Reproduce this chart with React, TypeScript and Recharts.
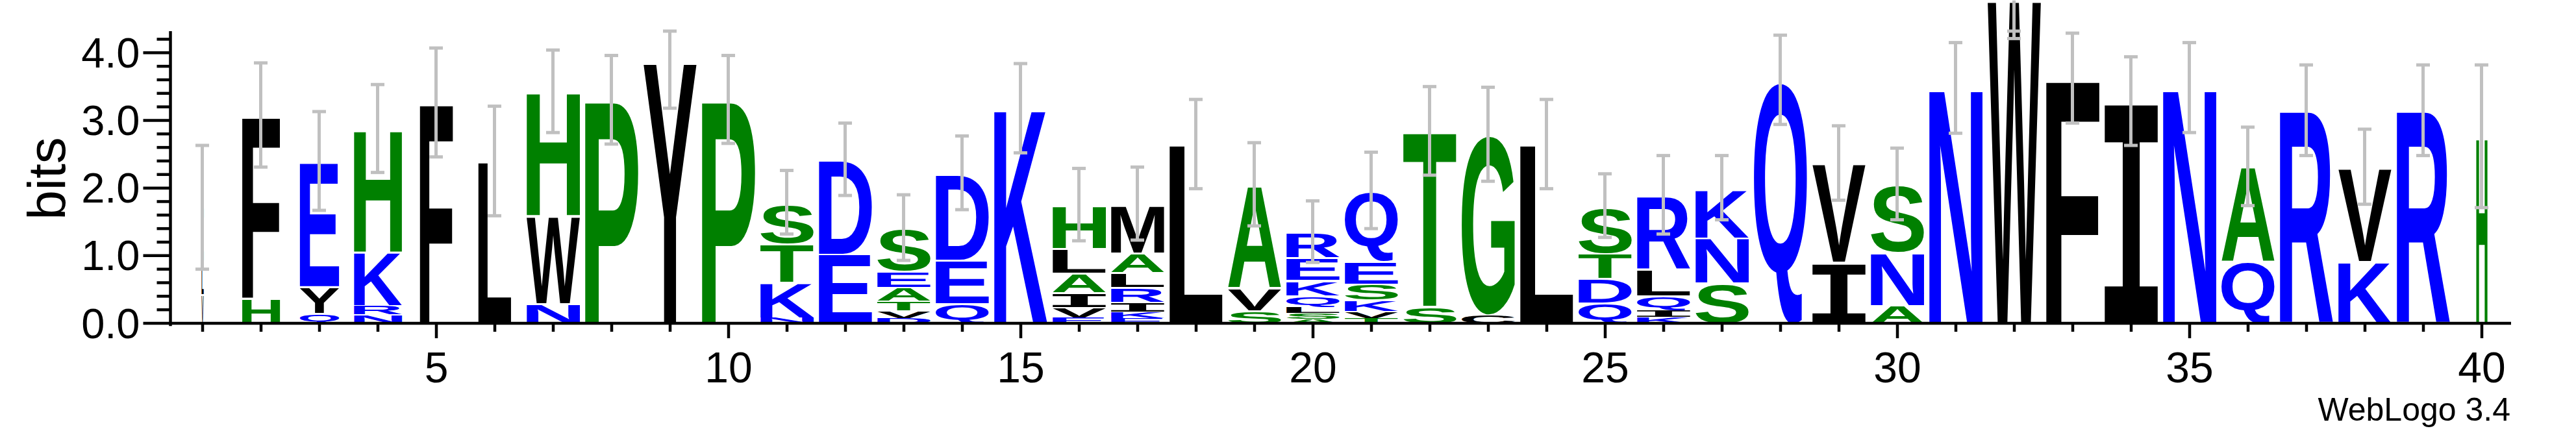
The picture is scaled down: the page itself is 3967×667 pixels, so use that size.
import { Bar, BarChart, Label, ReferenceLine, XAxis, YAxis } from 'recharts';

// sequence positions along the logo
const positions = [
  1, 2, 3, 4, 5, 6, 7, 8, 9, 10, 11, 12, 13, 14, 15, 16, 17, 18, 19, 20,
  21, 22, 23, 24, 25, 26, 27, 28, 29, 30, 31, 32, 33, 34, 35, 36, 37, 38, 39, 40,
];

// letters of each stack, read top to bottom
const stackLetters = [
  'ILV', 'FH', 'EYQ', 'HKRN', 'F', 'L', 'HWN', 'P', 'Y', 'P',
  'STKN', 'DE', 'SEATVD', 'DEQ', 'K', 'HLAIVE', 'MALRIKE', 'L', 'AVS', 'REKQLSA',
  'QESKVT', 'TS', 'GC', 'L', 'STDQ', 'RLQIK', 'KNS', 'Q', 'VI', 'SNA',
  'N', 'W', 'F', 'I', 'N', 'AQ', 'R', 'VK', 'R', 'H',
];

// bits of each letter, same order as stackLetters
const stackBits = [
  [0.8, 0.5, 0.43], [2.7, 0.38], [1.84, 0.4, 0.15], [1.81, 0.79, 0.14, 0.13], [3.27],
  [2.4], [1.83, 1.3, 0.3], [3.31], [3.86], [3.31],
  [0.59, 0.57, 0.52, 0.09], [1.39, 1.03], [0.64, 0.24, 0.21, 0.14, 0.11, 0.08], [1.27, 0.64, 0.3], [3.18],
  [0.63, 0.36, 0.29, 0.22, 0.15, 0.09], [0.71, 0.29, 0.22, 0.22, 0.15, 0.09, 0.08], [2.65], [1.52, 0.34, 0.19], [0.37, 0.34, 0.23, 0.17, 0.09, 0.08, 0.07],
  [1.04, 0.33, 0.24, 0.17, 0.1, 0.08], [2.59, 0.26], [2.66, 0.13], [2.65], [0.69, 0.37, 0.36, 0.31],
  [1.08, 0.4, 0.21, 0.1, 0.1], [0.72, 0.67, 0.6], [3.59], [1.46, 0.91], [1.0, 0.78, 0.27],
  [3.48], [4.85], [3.62], [3.28], [3.48],
  [1.4, 0.92], [3.15], [1.38, 0.92], [3.15], [2.76],
];

// stack width as a fraction of a full column
const stackWidth = [
  0.04, 0.71, 0.74, 0.9, 0.62, 0.62, 1, 1, 1, 1,
  1, 1, 1, 1, 1, 1, 1, 1, 1, 1,
  1, 1, 1, 1, 1, 1, 1, 1, 1, 1,
  1, 1, 1, 1, 1, 1, 1, 1, 1, 0.21,
];

// error bar ends (bits)
const errLow = [
  0.8, 2.31, 1.67, 2.23, 2.46, 1.59, 2.82, 2.65, 3.18, 2.66,
  1.32, 1.89, 0.93, 1.68, 2.52, 1.22, 1.23, 1.99, 1.44, 0.9,
  1.4, 2.19, 2.1, 1.99, 1.27, 1.32, 1.53, 2.94, 1.82, 1.53,
  2.81, 4.21, 2.96, 2.63, 2.82, 1.74, 2.48, 1.76, 2.48, 1.71,
];
const errHigh = [
  2.63, 3.85, 3.13, 3.53, 4.07, 3.21, 4.04, 3.96, 4.32, 3.96,
  2.26, 2.96, 1.9, 2.77, 3.84, 2.29, 2.31, 3.31, 2.67, 1.81,
  2.53, 3.5, 3.49, 3.31, 2.21, 2.48, 2.48, 4.26, 2.92, 2.59,
  4.15, 4.32, 4.29, 3.94, 4.15, 2.9, 3.82, 2.87, 3.82, 3.82,
];

const yTicks = [0, 0.2, 0.4, 0.6, 0.8, 1, 1.2, 1.4, 1.6, 1.8, 2, 2.2, 2.4, 2.6, 2.8, 3, 3.2, 3.4, 3.6, 3.8, 4, 4.2];
const maxBits = 4.32;

// hydrophobicity colours
const letterColor: Record<string, string> = {
  R: '#0000ff', K: '#0000ff', D: '#0000ff', E: '#0000ff', N: '#0000ff', Q: '#0000ff',
  S: '#008000', G: '#008000', H: '#008000', T: '#008000', A: '#008000', P: '#008000',
  Y: '#000000', V: '#000000', M: '#000000', C: '#000000', L: '#000000', F: '#000000', I: '#000000', W: '#000000',
};

const slots = [0, 1, 2, 3, 4, 5, 6];

const rows = positions.map((pos, i) => {
  const letters = stackLetters[i].split('').reverse();
  const bits = [...stackBits[i]].reverse();
  const row: any = {
    pos,
    frac: stackWidth[i],
    total: bits.reduce((a, b) => a + b, 0),
    errLo: errLow[i],
    errHi: errHigh[i],
  };
  slots.forEach((k) => {
    row[`s${k}`] = bits[k] ?? 0;
    row[`l${k}`] = letters[k] ?? '';
  });
  return row;
});

const GLYPH_SIZE = 200;
const glyphFont = (letter: string) => (letter === 'I' ? '"Liberation Mono"' : '"Liberation Sans"');
const metricCache: Record<string, { l: number; w: number; a: number; h: number }> = {};

function measure(letter: string) {
  if (metricCache[letter]) return metricCache[letter];
  let m = { l: -14, w: 120, a: 143, h: 143 };
  try {
    const ctx = document.createElement('canvas').getContext('2d');
    if (ctx) {
      ctx.font = `bold ${GLYPH_SIZE}px ${glyphFont(letter)}`;
      const t = ctx.measureText(letter);
      m = {
        l: t.actualBoundingBoxLeft,
        w: t.actualBoundingBoxLeft + t.actualBoundingBoxRight,
        a: t.actualBoundingBoxAscent,
        h: t.actualBoundingBoxAscent + t.actualBoundingBoxDescent,
      };
    }
  } catch (e) {
    // keep defaults
  }
  metricCache[letter] = m;
  return m;
}

function Glyph(props: any) {
  const { x, y, width, height, payload, slot } = props;
  const letter = payload?.[`l${slot}`];
  if (!letter || !(height > 0.3)) return <g />;
  const m = measure(letter);
  const w = width * payload.frac;
  const x0 = x + (width - w) / 2;
  const inset = Math.min(3, height * 0.12);
  const sx = w / m.w;
  const sy = (height - inset) / m.h;
  return (
    <text
      transform={`translate(${x0 + m.l * sx} ${y + inset + m.a * sy}) scale(${sx} ${sy})`}
      fontFamily={glyphFont(letter)}
      fontWeight="bold"
      fontSize={GLYPH_SIZE}
      fill={letterColor[letter] || '#000'}
    >
      {letter}
    </text>
  );
}

function ErrorShape(props: any) {
  const { x, y, width, height, payload } = props;
  if (!payload || !(height > 0)) return <g />;
  const lo = payload.errLo;
  const hi = payload.errHi;
  const top = payload.total;
  const upper = Math.max(hi, top);
  const ppb = height / (upper - lo);
  const py = (v: number) => y + (upper - v) * ppb;
  const cx = x + width / 2;
  const yTop = py(top);
  const yHi = py(hi);
  const yLo = py(lo);
  const gap = 8;
  return (
    <g stroke="#c0c0c0" strokeWidth={5}>
      {yTop - gap > yHi && <line x1={cx} x2={cx} y1={yHi} y2={yTop - gap} />}
      {yTop + gap < yLo && <line x1={cx} x2={cx} y1={Math.min(yTop + gap, yHi)} y2={yLo} />}
      <line x1={x} x2={x + width} y1={yHi} y2={yHi} />
      <line x1={x} x2={x + width} y1={yLo} y2={yLo} />
    </g>
  );
}

function XTick(props: any) {
  const { x, y, payload } = props;
  const v = payload.value;
  const major = v % 5 === 0;
  return (
    <g>
      <line x1={x} x2={x} y1={y} y2={y + (major ? 23 : 13)} stroke="#000" strokeWidth={4.5} />
      {major && (
        <text x={x} y={y + 91} textAnchor="middle" fontSize={66} fontFamily="Liberation Sans" fill="#000">
          {v}
        </text>
      )}
    </g>
  );
}

function YTick(props: any) {
  const { x, y, payload } = props;
  const v = payload.value;
  const major = Math.abs(v - Math.round(v)) < 1e-6;
  return (
    <g>
      <line x1={x - (major ? 42 : 21)} x2={x} y1={y} y2={y} stroke="#000" strokeWidth={4.5} />
      {major && (
        <text x={x - 47} y={y} textAnchor="end" dominantBaseline="central" fontSize={65} fontFamily="Liberation Sans" fill="#000">
          {v.toFixed(1)}
        </text>
      )}
    </g>
  );
}

export default function App() {
  return (
    <div style={{ position: 'absolute', left: 0, top: 0, width: 3967, height: 667, background: '#fff' }}>
      <BarChart width={3967} height={667} data={rows} margin={{ top: 0, right: 100, bottom: 0, left: 0 }}>
        <XAxis
          xAxisId="pos"
          dataKey="pos"
          type="number"
          domain={[0.45, 40.5]}
          ticks={positions}
          interval={0}
          tickSize={0}
          tickMargin={0}
          tickLine={false}
          tick={(p: any) => <XTick {...p} />}
          height={169}
          axisLine={{ stroke: '#000', strokeWidth: 4.5 }}
        >
          <Label
            content={() => (
              <text x={3866} y={648} textAnchor="end" fontSize={50} fontFamily="Liberation Sans" fill="#000">
                WebLogo 3.4
              </text>
            )}
          />
        </XAxis>
        <XAxis
          xAxisId="err"
          dataKey="pos"
          type="number"
          orientation="top"
          height={0}
          domain={[0.45, 40.5]}
          ticks={positions}
          hide
        />
        <YAxis
          yAxisId="bits"
          type="number"
          domain={[0, 4.78]}
          allowDataOverflow
          ticks={yTicks}
          interval={0}
          tickSize={0}
          tickMargin={0}
          tickLine={false}
          tick={(p: any) => <YTick {...p} />}
          axisLine={false}
          width={262.5}
        >
          <Label
            content={() => (
              <text x={100} y={275} transform="rotate(-90 100 275)" textAnchor="middle" fontSize={82} fontFamily="Liberation Sans" fill="#000">
                bits
              </text>
            )}
          />
        </YAxis>
        {slots.map((k) => (
          <Bar
            key={k}
            dataKey={`s${k}`}
            stackId="logo"
            xAxisId="pos"
            yAxisId="bits"
            barSize={82}
            isAnimationActive={false}
            shape={(p: any) => <Glyph {...p} slot={k} />}
          />
        ))}
        <Bar
          dataKey={(d: any) => [d.errLo, Math.max(d.errHi, d.total)]}
          xAxisId="err"
          yAxisId="bits"
          barSize={21}
          isAnimationActive={false}
          shape={(p: any) => <ErrorShape {...p} />}
        />
        <ReferenceLine
          xAxisId="pos"
          yAxisId="bits"
          segment={[{ x: 0.45, y: -0.04 }, { x: 0.45, y: maxBits }]}
          stroke="#000"
          strokeWidth={4.5}
          ifOverflow="visible"
        />
      </BarChart>
    </div>
  );
}
